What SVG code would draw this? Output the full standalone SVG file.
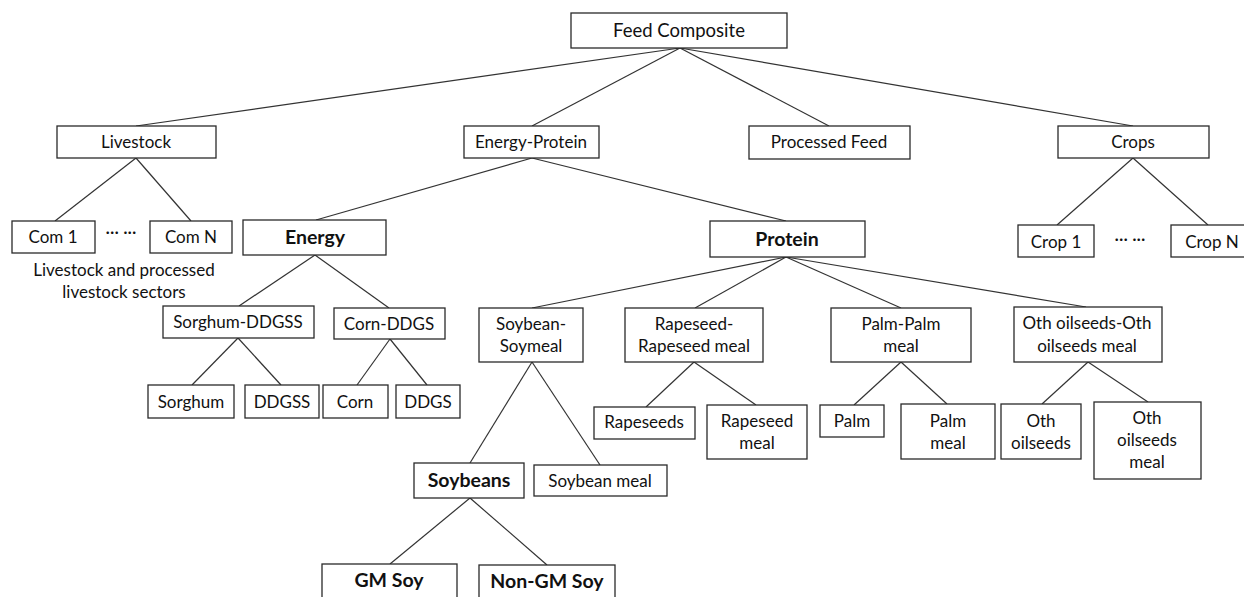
<svg xmlns="http://www.w3.org/2000/svg" width="1244" height="597" viewBox="0 0 1244 597">
  <style>
    .box { fill: #ffffff; stroke: #2a2a2a; stroke-width: 1.3; }
    .lbl { font-family: Lato, "Liberation Sans", sans-serif; font-size: 17px; fill: #111; text-anchor: middle; }
    .big { font-size: 18.5px; }
    .bold { font-family: Lato, "Liberation Sans", sans-serif; font-size: 19.5px; font-weight: bold; fill: #111; text-anchor: middle; }
    .conn line { stroke: #333; stroke-width: 1.2; }
  </style>

  <rect width="1244" height="597" fill="#ffffff"/>

  <!-- connectors -->
  <g id="connectors" class="conn">
    <line x1="680" y1="48" x2="136" y2="126"/>
    <line x1="680" y1="48" x2="532" y2="126"/>
    <line x1="680" y1="48" x2="829" y2="126"/>
    <line x1="680" y1="48" x2="1133" y2="126"/>
    <line x1="136" y1="158" x2="55" y2="221"/>
    <line x1="136" y1="158" x2="191" y2="221"/>
    <line x1="532" y1="158" x2="316" y2="220"/>
    <line x1="532" y1="158" x2="786" y2="221"/>
    <line x1="1133" y1="158" x2="1057" y2="225"/>
    <line x1="1133" y1="158" x2="1208" y2="225"/>
    <line x1="315" y1="255" x2="239" y2="306"/>
    <line x1="315" y1="255" x2="389" y2="308"/>
    <line x1="238" y1="338" x2="192" y2="385"/>
    <line x1="238" y1="338" x2="281" y2="385"/>
    <line x1="390" y1="339" x2="357" y2="385"/>
    <line x1="390" y1="339" x2="427" y2="385"/>
    <line x1="786" y1="257" x2="532" y2="308"/>
    <line x1="786" y1="257" x2="695" y2="308"/>
    <line x1="786" y1="257" x2="901" y2="308"/>
    <line x1="786" y1="257" x2="1086" y2="307"/>
    <line x1="532" y1="362" x2="470" y2="463"/>
    <line x1="532" y1="362" x2="600" y2="465"/>
    <line x1="470" y1="498" x2="390" y2="564"/>
    <line x1="470" y1="498" x2="547" y2="565"/>
    <line x1="694" y1="362" x2="646" y2="407"/>
    <line x1="694" y1="362" x2="756" y2="405"/>
    <line x1="901" y1="362" x2="854" y2="405"/>
    <line x1="901" y1="362" x2="947" y2="404"/>
    <line x1="1088" y1="362" x2="1042" y2="404"/>
    <line x1="1088" y1="362" x2="1148" y2="402"/>
  </g>

  <!-- top level -->
  <g id="feed-composite">
    <rect class="box" x="571" y="13" width="216" height="35"/>
    <text class="lbl big" x="679" y="37">Feed Composite</text>
  </g>

  <g id="livestock">
    <rect class="box" x="57" y="126" width="159" height="32"/>
    <text class="lbl" x="136" y="148">Livestock</text>
  </g>
  <g id="energy-protein">
    <rect class="box" x="464" y="126" width="135" height="32"/>
    <text class="lbl" x="531" y="148">Energy-Protein</text>
  </g>
  <g id="processed-feed">
    <rect class="box" x="749" y="126" width="161" height="33"/>
    <text class="lbl" x="829" y="148">Processed Feed</text>
  </g>
  <g id="crops">
    <rect class="box" x="1058" y="126" width="151" height="32"/>
    <text class="lbl" x="1133" y="148">Crops</text>
  </g>

  <!-- livestock commodities -->
  <g id="com-1">
    <rect class="box" x="12" y="221" width="83" height="32"/>
    <text class="lbl" x="53" y="243">Com 1</text>
  </g>
  <text class="lbl" x="121" y="238">··· ···</text>
  <g id="com-n">
    <rect class="box" x="150" y="221" width="82" height="32"/>
    <text class="lbl" x="191" y="243">Com N</text>
  </g>
  <g id="livestock-note">
    <text class="lbl" x="124" y="276">Livestock and processed</text>
    <text class="lbl" x="124" y="298">livestock sectors</text>
  </g>

  <!-- crops -->
  <g id="crop-1">
    <rect class="box" x="1018" y="225" width="76" height="32"/>
    <text class="lbl" x="1056" y="248">Crop 1</text>
  </g>
  <text class="lbl" x="1130" y="245">··· ···</text>
  <g id="crop-n">
    <rect class="box" x="1171" y="225" width="76" height="32"/>
    <text class="lbl" x="1212" y="248">Crop N</text>
  </g>

  <!-- energy branch -->
  <g id="energy">
    <rect class="box" x="243" y="220" width="143" height="35"/>
    <text class="bold" x="315" y="244">Energy</text>
  </g>
  <g id="sorghum-ddgss">
    <rect class="box" x="163" y="306" width="151" height="32"/>
    <text class="lbl" x="238" y="328">Sorghum-DDGSS</text>
  </g>
  <g id="corn-ddgs">
    <rect class="box" x="334" y="308" width="111" height="31"/>
    <text class="lbl" x="389" y="330">Corn-DDGS</text>
  </g>
  <g id="sorghum">
    <rect class="box" x="148" y="385" width="86" height="33"/>
    <text class="lbl" x="191" y="408">Sorghum</text>
  </g>
  <g id="ddgss">
    <rect class="box" x="245" y="385" width="74" height="33"/>
    <text class="lbl" x="282" y="408">DDGSS</text>
  </g>
  <g id="corn">
    <rect class="box" x="323" y="385" width="65" height="33"/>
    <text class="lbl" x="355" y="408">Corn</text>
  </g>
  <g id="ddgs">
    <rect class="box" x="396" y="385" width="64" height="33"/>
    <text class="lbl" x="428" y="408">DDGS</text>
  </g>

  <!-- protein branch -->
  <g id="protein">
    <rect class="box" x="710" y="221" width="155" height="36"/>
    <text class="bold" x="787" y="246">Protein</text>
  </g>
  <g id="soybean-soymeal">
    <rect class="box" x="479" y="308" width="104" height="54"/>
    <text class="lbl" x="531" y="330">Soybean-</text>
    <text class="lbl" x="531" y="352">Soymeal</text>
  </g>
  <g id="rapeseed-rapeseed-meal">
    <rect class="box" x="625" y="308" width="138" height="54"/>
    <text class="lbl" x="694" y="330">Rapeseed-</text>
    <text class="lbl" x="694" y="352">Rapeseed meal</text>
  </g>
  <g id="palm-palm-meal">
    <rect class="box" x="831" y="308" width="140" height="54"/>
    <text class="lbl" x="901" y="330">Palm-Palm</text>
    <text class="lbl" x="901" y="352">meal</text>
  </g>
  <g id="oth-oilseeds-oth-oilseeds-meal">
    <rect class="box" x="1014" y="307" width="148" height="55"/>
    <text class="lbl" x="1087" y="329">Oth oilseeds-Oth</text>
    <text class="lbl" x="1087" y="352">oilseeds meal</text>
  </g>

  <g id="soybeans">
    <rect class="box" x="414" y="463" width="110" height="35"/>
    <text class="bold" x="469" y="487">Soybeans</text>
  </g>
  <g id="soybean-meal">
    <rect class="box" x="534" y="465" width="133" height="31"/>
    <text class="lbl" x="600" y="487">Soybean meal</text>
  </g>
  <g id="gm-soy">
    <rect class="box" x="322" y="564" width="135" height="40"/>
    <text class="bold" x="389" y="587">GM Soy</text>
  </g>
  <g id="non-gm-soy">
    <rect class="box" x="479" y="565" width="136" height="40"/>
    <text class="bold" x="547" y="588">Non-GM Soy</text>
  </g>

  <g id="rapeseeds">
    <rect class="box" x="594" y="407" width="101" height="32"/>
    <text class="lbl" x="644" y="428">Rapeseeds</text>
  </g>
  <g id="rapeseed-meal">
    <rect class="box" x="707" y="405" width="100" height="54"/>
    <text class="lbl" x="757" y="427">Rapeseed</text>
    <text class="lbl" x="757" y="449">meal</text>
  </g>
  <g id="palm">
    <rect class="box" x="820" y="405" width="64" height="32"/>
    <text class="lbl" x="852" y="427">Palm</text>
  </g>
  <g id="palm-meal">
    <rect class="box" x="901" y="404" width="94" height="55"/>
    <text class="lbl" x="948" y="427">Palm</text>
    <text class="lbl" x="948" y="449">meal</text>
  </g>
  <g id="oth-oilseeds">
    <rect class="box" x="1001" y="404" width="80" height="55"/>
    <text class="lbl" x="1041" y="427">Oth</text>
    <text class="lbl" x="1041" y="449">oilseeds</text>
  </g>
  <g id="oth-oilseeds-meal">
    <rect class="box" x="1094" y="402" width="107" height="77"/>
    <text class="lbl" x="1147" y="424">Oth</text>
    <text class="lbl" x="1147" y="446">oilseeds</text>
    <text class="lbl" x="1147" y="468">meal</text>
  </g>
</svg>
